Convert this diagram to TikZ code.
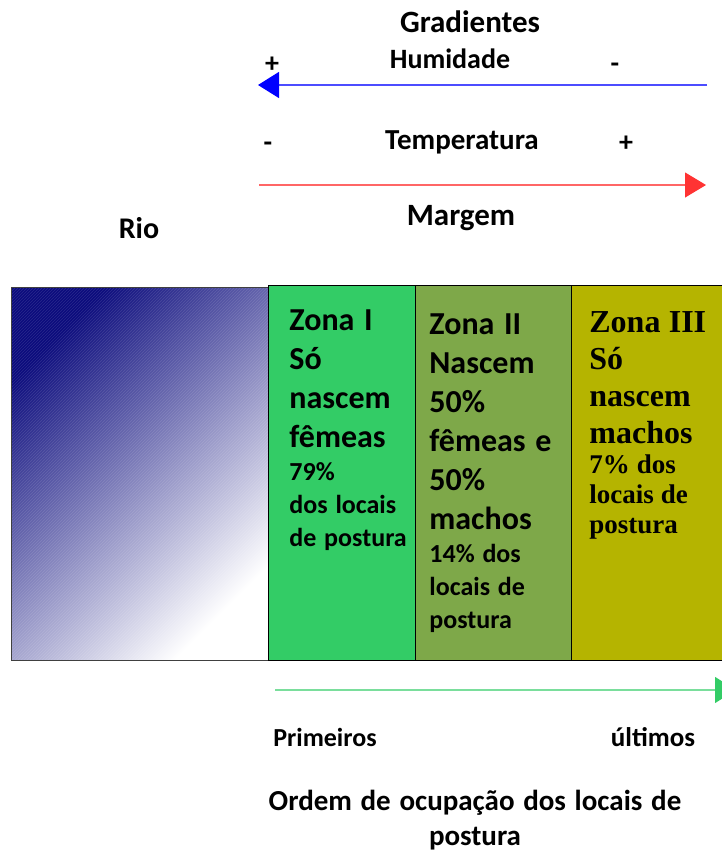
\documentclass[tikz,border=0pt]{standalone}
\usepackage{fontspec}
\setmainfont{Carlito}
\newfontfamily\serifzona{Liberation Serif}
\usetikzlibrary{arrows.meta, patterns}

\definecolor{rioescuro}{RGB}{12,12,125}
\definecolor{zonaum}{RGB}{51,204,102}
\definecolor{zonadois}{RGB}{126,168,73}
\definecolor{zonatres}{RGB}{181,180,0}

\newcommand{\tam}[2]{\fontsize{#1}{#2}\selectfont\spaceskip=0.3em plus 0.1em}

\begin{document}
\begin{tikzpicture}[x=1pt, y=-1pt, line width=0.8pt,
  rotulo/.style={font=\bfseries\tam{28}{33}},
  sinal/.style={rotulo, anchor=base},
  zonatxt/.style={anchor=base west, inner sep=0pt, text width=150pt, align=left}]
  \useasboundingbox (0,0) rectangle (721,852);
  % gradientes
  \node[rotulo, font=\bfseries\tam{31}{35}] (grad) at (470,22) {Gradientes};
  \node[sinal] (hum) at (450,68) {Humidade};
  \node[sinal] (humplus) at (272,72) {+};
  \node[sinal] (hummin) at (615,72) {-};
  \coordinate (hu0) at (707,85);
  \coordinate (hu1) at (258,85);
  \draw[blue!70!white, line width=1.2pt, -{Triangle[length=21pt, width=26pt, color=blue]}] (hu0)--(hu1);
  \node[sinal, font=\bfseries\tam{29}{33}] (temp) at (462,149) {Temperatura};
  \node[sinal] (tempmin) at (268,151) {-};
  \node[sinal] (tempplus) at (626,151) {+};
  \coordinate (te0) at (259,185);
  \coordinate (te1) at (706,185);
  \draw[red!60!white, line width=1.2pt, -{Triangle[length=21pt, width=25pt, color=red!80!white]}] (te0)--(te1);
  \node[rotulo, font=\bfseries\tam{31}{35}] (margem) at (461,218) {Margem};
  \node[rotulo, font=\bfseries\tam{30}{35}] (rio) at (139,228) {Rio};
  % rio
  \shade[top color=rioescuro, bottom color=white, shading angle=45] (11,287) rectangle (268,660);
  \fill[pattern=north east lines, pattern color=white, opacity=0.12] (11,287) rectangle (268,660);
  \draw[gray!50!black] (11,287) rectangle (268,660);
  % zonas
  \draw[fill=zonaum] (268,285) rectangle (415,660);
  \draw[fill=zonadois] (415,285) rectangle (571,660);
  \draw[fill=zonatres] (571,285) rectangle (730,660);
  \node[zonatxt] (z1) at (289,330) {{\bfseries\tam{32}{39}Zona I\\Só\\nascem\\fêmeas\par}{\bfseries\tam{26}{33}79\%\\dos locais\\de postura\par}};
  \node[zonatxt] (z2) at (429,334) {{\bfseries\tam{32}{39}Zona II\\Nascem\\50\%\\fêmeas e\\50\%\\machos\par}{\bfseries\tam{26}{33}14\% dos\\locais de\\postura\par}};
  \node[zonatxt] (z3) at (589,332) {{\serifzona\bfseries\fontsize{32}{37}\selectfont\spaceskip=0.26em Zona III\\Só\\nascem\\machos\par}{\serifzona\bfseries\fontsize{27}{30}\selectfont\spaceskip=0.26em 7\% dos\\locais de\\postura\par}};
  % ordem de ocupacao
  \coordinate (oc0) at (275,690);
  \coordinate (oc1) at (736,690);
  \draw[zonaum!65!white, line width=1.2pt, -{Triangle[length=21pt, width=26pt, color=zonaum]}] (oc0)--(oc1);
  \node[rotulo, font=\bfseries\tam{26}{30}] (prim) at (325,737) {Primeiros};
  \node[rotulo, font=\bfseries\tam{27}{30}] (ult) at (653,737) {últimos};
  \node[rotulo, font=\bfseries\tam{29}{35}, align=center] (ordem) at (475,820) {Ordem de ocupação dos locais de\\postura};
\end{tikzpicture}
\end{document}
